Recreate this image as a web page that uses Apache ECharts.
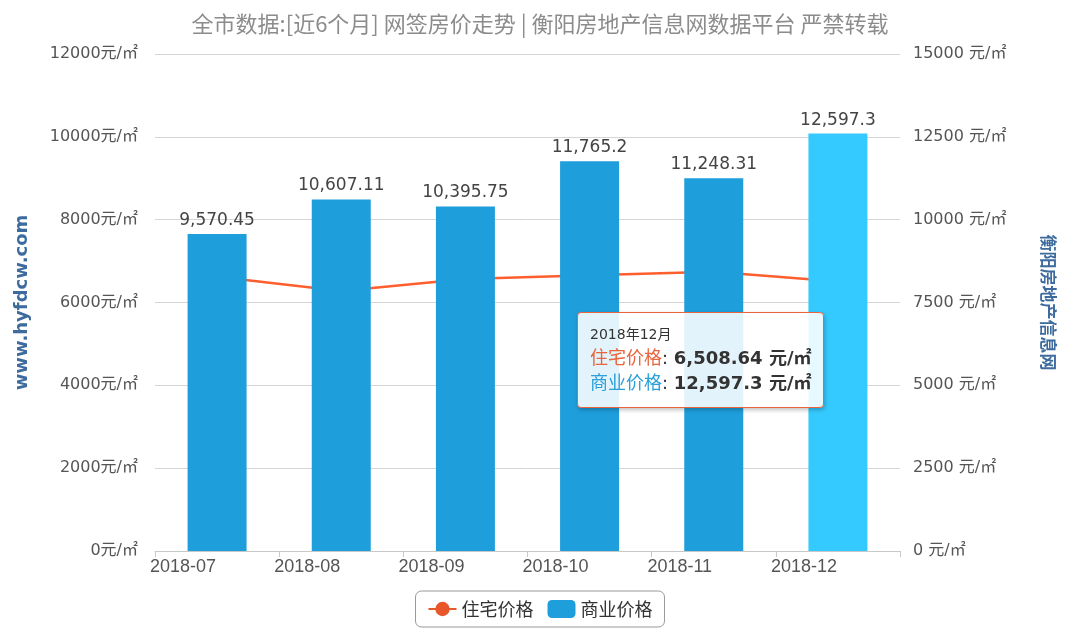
<!DOCTYPE html>
<html>
<head>
<meta charset="utf-8">
<script src="https://cdn.jsdelivr.net/npm/echarts@6/dist/echarts.min.js"></script>
<style>
  html, body { margin: 0; padding: 0; background: #fff; }
  #Map { width: 1080px; height: 642px; }
</style>
</head>
<body>
<div id="Map"></div>
<script>
// data
var months = ['2018-07', '2018-08', '2018-09', '2018-10', '2018-11', '2018-12'];
var zhuZhai = [6620, 6280, 6570, 6660, 6740, 6508.64];        // 住宅价格 (left axis)
var shangYe = [9570.45, 10607.11, 10395.75, 11765.2, 11248.31, 12597.3]; // 商业价格 (right axis)
var tipMonth = '2018年12月';
var hoverIndex = 5;

var font = '"DejaVu Sans", "Noto Sans CJK SC", sans-serif';
var fmt = function (v) {
  return v.toLocaleString('en-US', { maximumFractionDigits: 2 });
};

// the hovered bar is drawn lighter
var barData = shangYe.map(function (v, i) {
  return i === hoverIndex ? { value: v, itemStyle: { color: '#31b8f3' } } : v;
});

var myChart = echarts.init(document.getElementById('Map'));
var option = {
  animation: false,
  backgroundColor: '#fff',
  title: {
    text: '全市数据:[近6个月] 网签房价走势 | 衡阳房地产信息网数据平台 严禁转载',
    left: 'center',
    top: 8,
    textStyle: { color: '#8c8c8c', fontSize: 22, fontWeight: 'normal', fontFamily: '"Noto Sans CJK SC", sans-serif' }
  },
  grid: { left: 155, right: 180, top: 54, bottom: 91 },
  tooltip: {
    trigger: 'axis',
    axisPointer: { type: 'none' },
    alwaysShowContent: true,
    position: [577, 312],
    backgroundColor: 'rgba(255,255,255,0.88)',
    borderColor: '#e8643c',
    borderWidth: 1,
    padding: [10, 12, 12, 12],
    extraCssText: 'border-radius:4px;box-shadow:1px 2px 4px rgba(0,0,0,0.25);',
    formatter: function () {
      var s = 'font-family:' + font.replace(/"/g, "'") + ';';
      return '<div style="' + s + 'font-size:14px;color:#333;line-height:22px;">' + tipMonth + '</div>' +
        '<div style="' + s + 'font-size:18px;line-height:25px;color:#333;">' +
        '<span style="color:#e8643c">住宅价格</span>: <b>' + fmt(zhuZhai[hoverIndex]) + ' 元/㎡</b></div>' +
        '<div style="' + s + 'font-size:18px;line-height:25px;color:#333;">' +
        '<span style="color:#2a9fd8">商业价格</span>: <b>' + fmt(shangYe[hoverIndex]) + ' 元/㎡</b></div>';
    }
  },
  legend: {
    bottom: 15,
    left: 'center',
    borderColor: '#999',
    borderWidth: 1,
    borderRadius: 6,
    padding: [9, 12, 9, 12],
    itemGap: 14,
    itemWidth: 28,
    itemHeight: 18,
    textStyle: { color: '#333', fontSize: 18, fontFamily: '"Noto Sans CJK SC", sans-serif' },
    data: [{ name: '住宅价格' }, { name: '商业价格', icon: 'roundRect' }]
  },
  xAxis: [{
    type: 'category',
    data: months,
    boundaryGap: true,
    axisLine: { lineStyle: { color: '#c8c8c8' } },
    axisTick: { show: true, length: 6, lineStyle: { color: '#c8c8c8' } },
    axisLabel: {
      color: '#555', fontSize: 18, margin: 7,
      fontFamily: '"Liberation Sans", sans-serif',
      padding: [0, 68, 0, 0]
    }
  }],
  yAxis: [{
    type: 'value',
    min: 0, max: 12000, interval: 2000,
    name: 'www.hyfdcw.com',
    nameLocation: 'middle',
    nameRotate: 90,
    nameGap: 124,
    nameTextStyle: { color: '#3d6b9e', fontSize: 18, fontWeight: 'bold', fontFamily: '"DejaVu Sans", sans-serif' },
    axisLabel: {
      formatter: function (v) { return v + '元/㎡'; },
      color: '#555', fontSize: 16, margin: 17, fontFamily: font, padding: [6, 0, 0, 0]
    },
    splitLine: { lineStyle: { color: '#d6d6d6' } },
    axisLine: { show: false },
    axisTick: { show: false }
  }, {
    type: 'value',
    min: 0, max: 15000, interval: 2500,
    name: '衡阳房地产信息网',
    nameLocation: 'middle',
    nameRotate: -90,
    nameGap: 140,
    nameTextStyle: { color: '#3d6b9e', fontSize: 17, fontWeight: 'bold', fontFamily: '"Noto Sans CJK SC", sans-serif' },
    axisLabel: {
      formatter: function (v) { return v + ' 元/㎡'; },
      color: '#555', fontSize: 16, margin: 13, fontFamily: font, padding: [6, 0, 0, 0]
    },
    splitLine: { show: false },
    axisLine: { show: false },
    axisTick: { show: false }
  }],
  series: [{
    name: '住宅价格',
    type: 'line',
    yAxisIndex: 0,
    z: 1,
    symbol: 'circle',
    symbolSize: 8,
    showSymbol: false,
    color: '#e8572a',
    lineStyle: { width: 2.5, color: '#e8572a' },
    data: zhuZhai
  }, {
    name: '商业价格',
    type: 'bar',
    yAxisIndex: 1,
    z: 3,
    barWidth: 59,
    color: '#1e9fdc',
    label: {
      show: true,
      position: 'top',
      distance: 5,
      color: '#444',
      fontSize: 17,
      fontFamily: font,
      formatter: function (p) { return fmt(p.value); }
    },
    data: barData
  }]
};
myChart.setOption(option);
myChart.dispatchAction({ type: 'showTip', seriesIndex: 1, dataIndex: hoverIndex });
</script>
</body>
</html>
